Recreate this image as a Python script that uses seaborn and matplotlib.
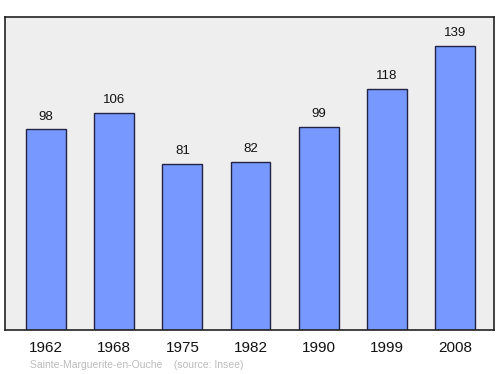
import matplotlib
matplotlib.use("Agg")
import matplotlib.pyplot as plt
import seaborn as sns
import pandas as pd

years = ["1962", "1968", "1975", "1982", "1990", "1999", "2008"]
population = [98, 106, 81, 82, 99, 118, 139]
footer = "Sainte-Marguerite-en-Ouche    (source: Insee)"

sns.set_style("white")
plt.rcParams['font.family'] = ['Liberation Sans', 'DejaVu Sans']

df = pd.DataFrame({"year": years, "pop": population})

fig = plt.figure(figsize=(5.0, 3.74), dpi=100)
ax = fig.add_axes([0.01, 0.118, 0.978, 0.836])
ax.set_facecolor("#eeeeee")
sns.barplot(data=df, x="year", y="pop", ax=ax, color="#7799ff",
            saturation=1, width=0.585, edgecolor="#222244", linewidth=1)
ax.set_ylim(0, 152.9)
ax.set_xlim(-0.6, 6.57)
for i, v in enumerate(population):
    ax.annotate(str(v), (i, v), xytext=(0, 5), textcoords="offset points",
                ha="center", va="bottom", fontsize=9.5, color="#111111")
ax.set_yticks([])
ax.set_xlabel("")
ax.set_ylabel("")
ax.tick_params(axis="x", length=0, labelsize=11, pad=8, colors="#111111")
for s in ax.spines.values():
    s.set_visible(True)
    s.set_color("#222222")
    s.set_linewidth(1.2)
fig.text(0.06, 0.012, footer, fontsize=7.5, color="#bbbbbb", ha="left", va="bottom")
fig.savefig("out.png", dpi=100, facecolor="white")
